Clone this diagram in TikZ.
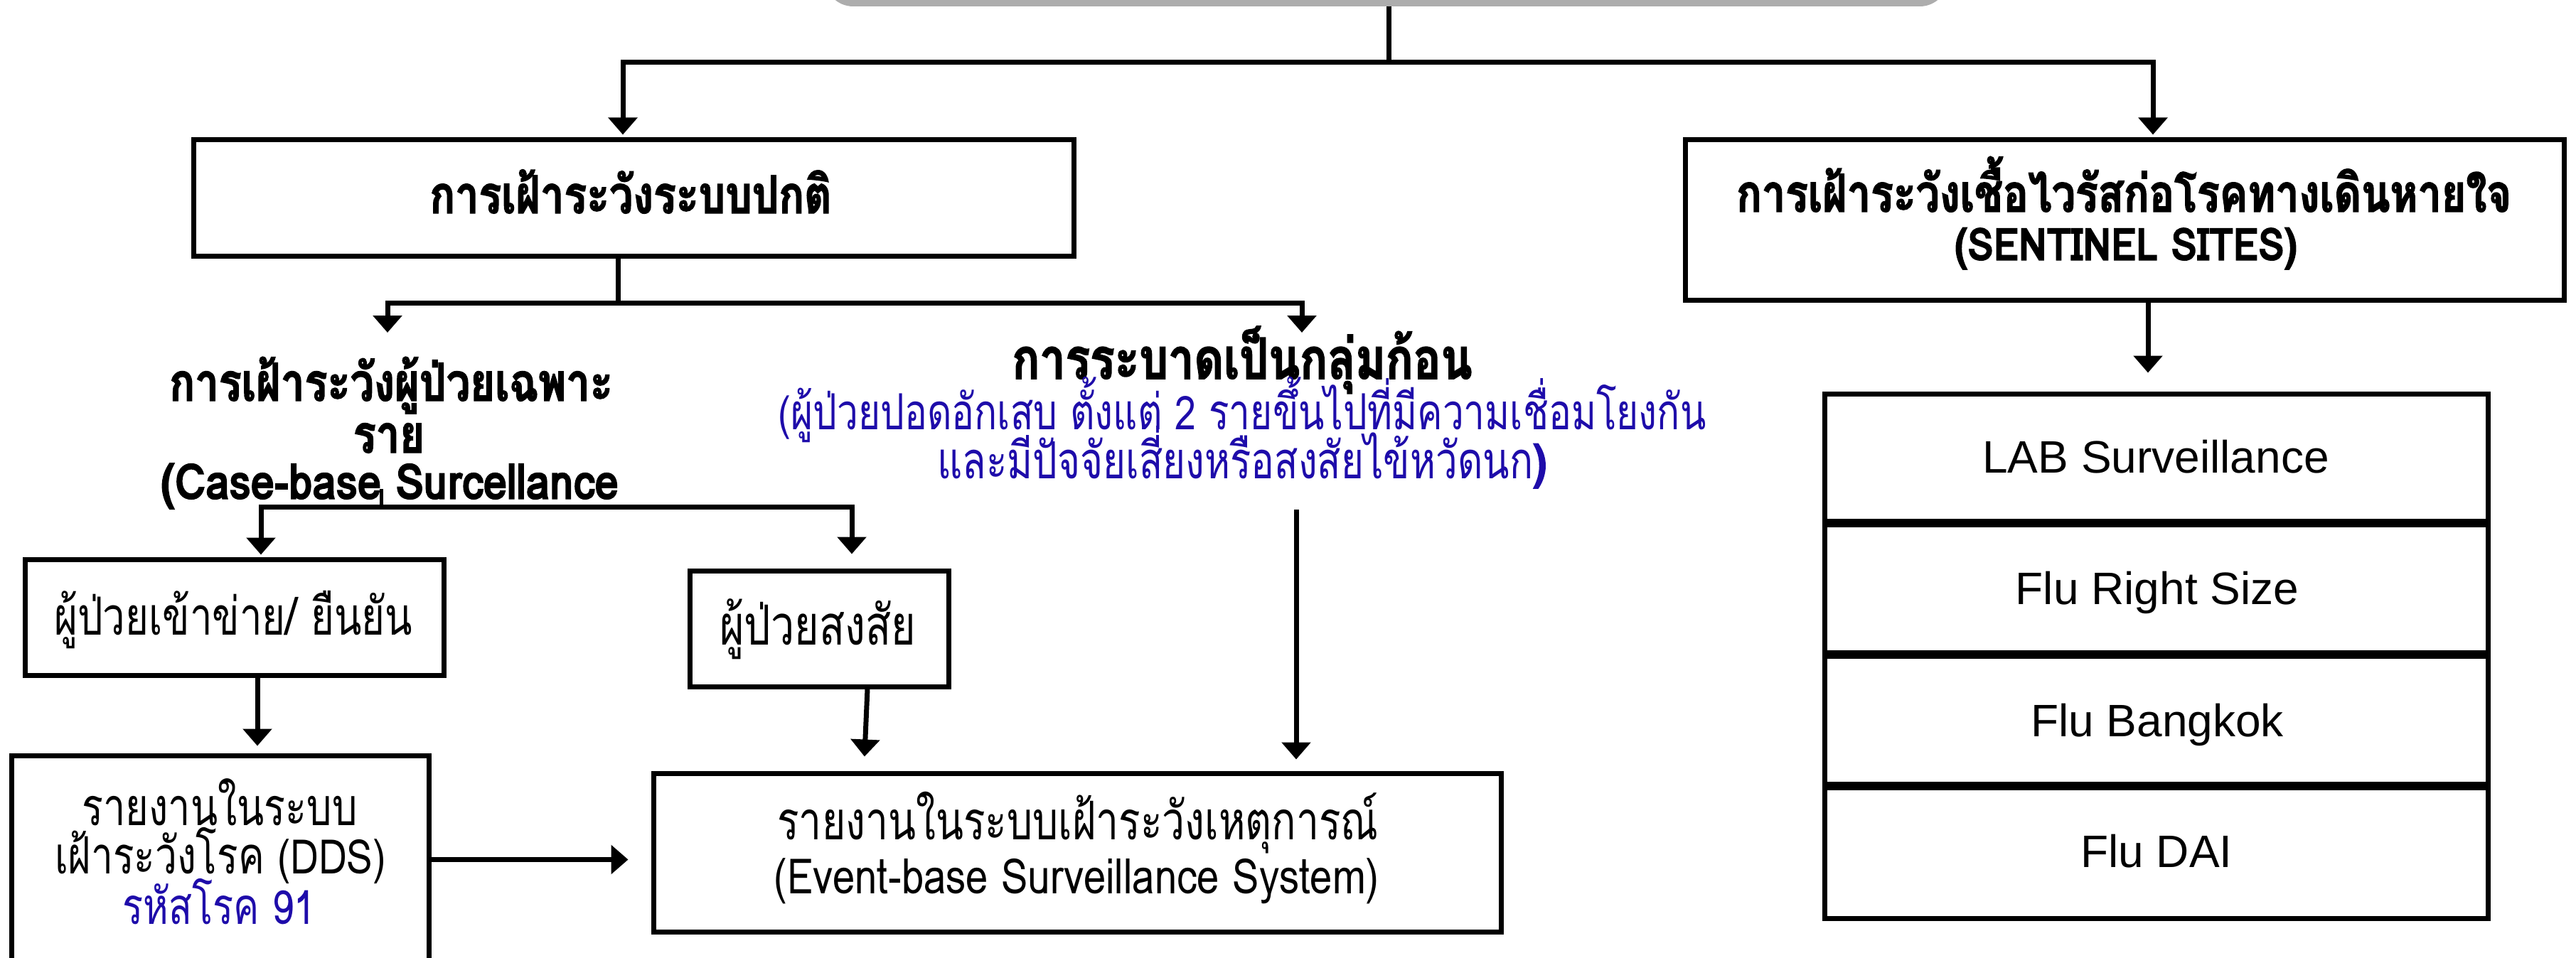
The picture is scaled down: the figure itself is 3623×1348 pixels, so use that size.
\documentclass[tikz,border=0pt]{standalone}
\usepackage{fontspec}
\usetikzlibrary{arrows.meta}
\newfontfamily\thaifont[Script=Thai, FakeStretch=0.76, BoldFeatures={FakeStretch=0.805, FakeBold=2}]{Loma}
\newfontfamily\latloma[FakeStretch=0.82, BoldFeatures={FakeStretch=0.87, FakeBold=2}]{Loma}
\newfontfamily\latinfont{Liberation Sans}
\newcommand\lat[2]{{\latloma\fontsize{#1}{#1}\selectfont #2}}
\definecolor{txtblue}{RGB}{30,12,170}
\definecolor{hdrgray}{RGB}{173,173,173}
\tikzset{
 box/.style={draw=black, line width=7pt, inner sep=0pt, fill=white},
 conn/.style={draw=black, line width=7pt},
 arr/.style={conn, -{Triangle[length=24pt,width=40pt]}},
 hd/.style={inner sep=0pt, anchor=base, font=\thaifont\bfseries\fontsize{#1}{#1}\selectfont},
 hd/.default=73.5,
 tx/.style={inner sep=0pt, anchor=base, font=\thaifont\fontsize{#1}{#1}\selectfont},
 tx/.default=73.5,
 lt/.style={inner sep=0pt, anchor=base, font=\latinfont\fontsize{64}{64}\selectfont},
}
\begin{document}
\begin{tikzpicture}[x=1pt,y=-1pt]
\useasboundingbox (0,0) rectangle (3623,1348);
% header
\node[fill=hdrgray, rounded corners=40pt, minimum width=1580pt, minimum height=120pt, inner sep=0pt] (G) at (1950,-51) {};
% main boxes
\node[box, minimum width=1238pt, minimum height=163pt] (A) at (891,278.5) {};
\node[hd=73.5] (At) at (887,300) {การเฝ้าระวังระบบปกติ};
\node[box, minimum width=1236pt, minimum height=225pt] (B) at (2988,309.5) {};
\node[hd=73.5] (Bt1) at (2987,298) {การเฝ้าระวังเชื้อไวรัสก่อโรคทางเดินหายใจ};
\node[hd] (Bt2) at (2990,366) {\lat{63}{(SENTINEL SITES)}};
% case-based heading
\node[hd=74] (cb1) at (550,564) {การเฝ้าระวังผู้ป่วยเฉพาะ};
\node[hd=74] (cb2) at (547,637) {ราย};
\node[hd] (cb3) at (548,702) {\lat{69}{(Case-base Surcellance}};
% cluster heading
\node[hd=80] (cl1) at (1747,533) {การระบาดเป็นกลุ่มก้อน};
\node[tx=70, text=txtblue] (cl2) at (1747,604) {\lat{65.5}{(}ผู้ป่วยปอดอักเสบ ตั้งแต่ \lat{65.5}{2} รายขึ้นไปที่มีความเชื่อมโยงกัน};
\node[tx=72, text=txtblue] (cl3) at (1747,673) {และมีปัจจัยเสี่ยงหรือสงสัยไข้หวัดนก{\bfseries\lat{67}{)}}};
% lower boxes
\node[box, minimum width=589pt, minimum height=163pt] (C) at (329.5,868.5) {};
\node[tx=74] (Ct) at (328,893) {ผู้ป่วยเข้าข่าย/ ยืนยัน};
\node[box, minimum width=364pt, minimum height=163pt] (E) at (1152,884.5) {};
\node[tx=77.8] (Et) at (1150,907) {ผู้ป่วยสงสัย};
\node[box, minimum width=587pt, minimum height=293pt] (D) at (309.5,1209.5) {};
\node[tx=73.4] (Dt1) at (309,1161) {รายงานในระบบ};
\node[tx=72.4] (Dt2) at (310,1229) {เฝ้าระวังโรค \lat{67}{(DDS)}};
\node[tx=71.3, text=txtblue] (Dt3) at (308,1300) {รหัสโรค \lat{66}{91}};
\node[box, minimum width=1192pt, minimum height=223pt] (F) at (1515,1199.5) {};
\node[tx=75] (Ft1) at (1516,1181) {รายงานในระบบเฝ้าระวังเหตุการณ์};
\node[tx] (Ft2) at (1514,1257) {\lat{68.5}{(Event-base Surveillance System)}};
% sentinel stack
\node[box, minimum width=933pt, minimum height=179pt] (S1) at (3032.5,643.5) {};
\node[box, minimum width=933pt, minimum height=180pt] (S2) at (3032.5,828) {};
\node[box, minimum width=933pt, minimum height=180pt] (S3) at (3032.5,1013) {};
\node[box, minimum width=933pt, minimum height=184pt] (S4) at (3032.5,1200) {};
\node[lt] (S1t) at (3032,665) {LAB Surveillance};
\node[lt] (S2t) at (3034,850) {Flu Right Size};
\node[lt] (S3t) at (3034,1036) {Flu Bangkok};
\node[lt] (S4t) at (3033,1220) {Flu DAI};
% connectors
\coordinate (j0) at (1953,88);
\draw[conn] (G.south -| j0) -- (j0);
\draw[arr, shorten >=4pt] (j0) -| ([xshift=-15pt]A.north);
\draw[arr, shorten >=4pt] (j0) -| ([xshift=40pt]B.north);
\coordinate (j1) at (869,426);
\coordinate (cbin) at (545,468);
\coordinate (clin) at (1831,468);
\draw[conn] (A.south -| j1) -- (j1);
\draw[arr] (j1) -| (cbin);
\draw[arr] (j1) -| (clin);
\coordinate (cbout) at (536,688);
\coordinate (j2) at (536,713);
\draw[conn, line width=5pt] (cbout) -- (j2);
\draw[arr, shorten >=3pt] (j2) -| ([xshift=37.5pt]C.north);
\draw[arr, shorten >=20pt] (j2) -| ([xshift=46pt]E.north);
\draw[arr, shorten >=10pt] ([xshift=32.5pt]C.south) -- ([xshift=52.5pt]D.north);
\draw[arr, shorten >=20pt] ([xshift=68pt]E.south) -- ([xshift=-300pt]F.north);
\coordinate (clout) at (1823,717);
\draw[arr, shorten >=16pt] (clout) -- (clout |- F.north);
\draw[arr, shorten >=32pt] (D.east) -- (D.east -| F.west);
\draw[arr, shorten >=26pt] ([xshift=33pt]B.south) -- ([xshift=-11.5pt]S1.north);
\end{tikzpicture}
\end{document}
